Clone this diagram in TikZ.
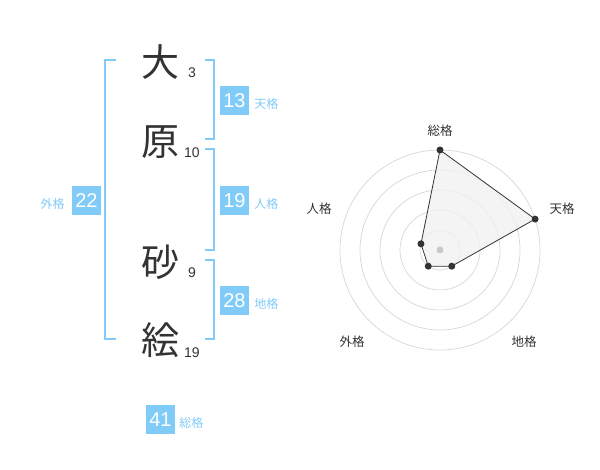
\documentclass[tikz,border=0pt]{standalone}
\usepackage{fontspec}
\setmainfont{Liberation Sans}
\newfontfamily\jpfont{Noto Sans CJK JP}
\usetikzlibrary{positioning}
\definecolor{kakublue}{HTML}{80CBF8}
\definecolor{inkgray}{HTML}{333333}
\definecolor{ringgray}{HTML}{D6D6D6}
\definecolor{areagray}{HTML}{F1F1F1}
\definecolor{hubgray}{HTML}{C8C8C8}

\begin{document}
\begin{tikzpicture} [x=1pt, y=-1pt]
    \tikzstyle{every node} = [align=center, inner sep=0pt]
    \tikzstyle{kanji} = [font=\jpfont\fontsize{38}{38}\selectfont, text=inkgray]
    \tikzstyle{strokes} = [font=\fontsize{14}{14}\selectfont, text=inkgray]
    \tikzstyle{kaku} = [fill=kakublue, text=white, minimum size=29pt, font=\fontsize{20}{20}\selectfont]
    \tikzstyle{kakuname} = [font=\jpfont\fontsize{12}{12}\selectfont, text=kakublue]
    \tikzstyle{bracket} = [draw=kakublue, line width=2pt]
    \tikzstyle{ring} = [draw=ringgray, line width=0.7pt]
    \tikzstyle{axisname} = [font=\jpfont\fontsize{12.5}{12.5}\selectfont, text=inkgray]
    \tikzstyle{dot} = [circle, fill=inkgray, minimum size=7pt]
    \useasboundingbox (0,0) rectangle (600,470);

    % name and strokes
    \node [kanji] (c1) at (160,62) {大};
    \node [kanji] (c2) at (160,142) {原};
    \node [kanji] (c3) at (160,262) {砂};
    \node [kanji] (c4) at (160,340) {絵};
    \node [strokes] (s1) at (192,73) {3};
    \node [strokes] (s2) at (192,153) {10};
    \node [strokes] (s3) at (192,273) {9};
    \node [strokes] (s4) at (192,353) {19};

    % brackets
    \draw [bracket] (116,60) -- (105,60) -- (105,339) -- (116,339);
    \draw [bracket] (205,60) -- (214,60) -- (214,139) -- (205,139);
    \draw [bracket] (205,149) -- (214,149) -- (214,250) -- (205,250);
    \draw [bracket] (205,260) -- (214,260) -- (214,339) -- (205,339);

    % kaku boxes
    \node [kaku] (ten) at (234.5,100.5) {13};
    \node [kaku] (jin) at (234.5,200.5) {19};
    \node [kaku] (chi) at (234.5,300.5) {28};
    \node [kaku] (gai) at (86.5,200.5) {22};
    \node [kaku] (sou) at (160.5,419.5) {41};
    \node [kakuname, right=5pt of ten, yshift=-3pt] {天格};
    \node [kakuname, right=5pt of jin, yshift=-3pt] {人格};
    \node [kakuname, right=5pt of chi, yshift=-3pt] {地格};
    \node [kakuname, left=7pt of gai, yshift=-3pt] {外格};
    \node [kakuname, right=4pt of sou, yshift=-3pt] {総格};

    % radar chart
    \begin{scope} [shift={(440,250)}, y=1pt]
        \foreach \r in {20,40,...,100}
            \draw [ring] (0,0) circle (\r);
        \foreach \name/\ang/\val in {sou/90/5, ten/18/5, chi/-54/1, gai/-126/1, jin/162/1}
            \coordinate (v-\name) at (\ang:\val*20);
        \filldraw [fill=areagray, fill opacity=0.8, draw=inkgray, line width=0.8pt]
            (v-sou) -- (v-ten) -- (v-chi) -- (v-gai) -- (v-jin) -- cycle;
        \fill [hubgray] (0,0) circle (3.5);
        \foreach \name in {sou,ten,chi,gai,jin}
            \node [dot] (d-\name) at (v-\name) {};
        \node [axisname] (a-sou) at (0,119) {総格};
        \node [axisname] (a-ten) at (122,41) {天格};
        \node [axisname] (a-jin) at (-121,41) {人格};
        \node [axisname] (a-gai) at (-88,-92) {外格};
        \node [axisname] (a-chi) at (84,-92) {地格};
    \end{scope}
\end{tikzpicture}
\end{document}
